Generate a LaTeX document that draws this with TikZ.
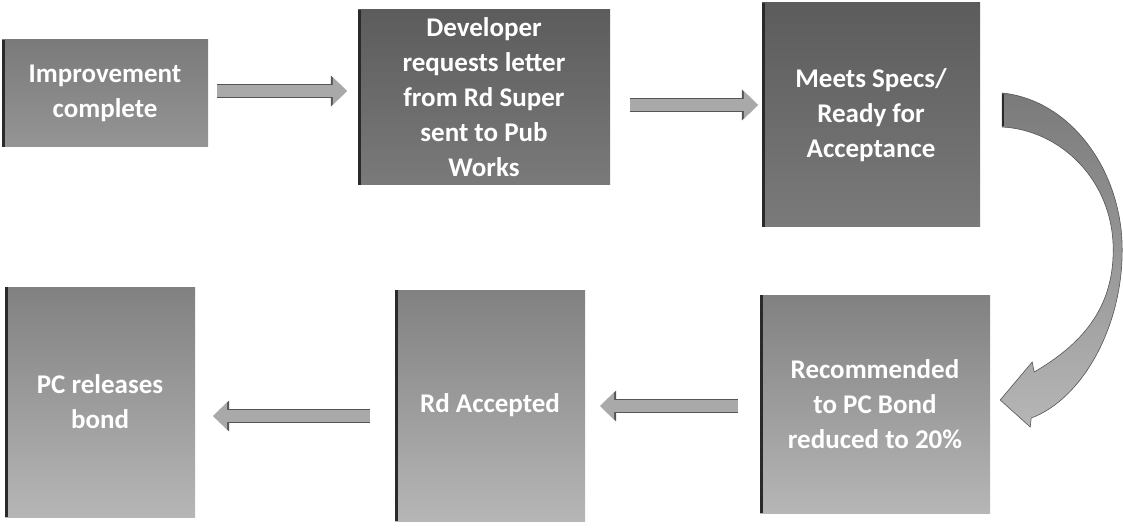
\documentclass[tikz,border=0pt]{standalone}
\usepackage{fontspec}
\setmainfont{Carlito}
\usetikzlibrary{calc,arrows.meta}

\definecolor{edgedark}{HTML}{2A2A2A}
\definecolor{arrowfill}{HTML}{A9A9A9}
\definecolor{arrowedge}{HTML}{555555}
\definecolor{midtop}{HTML}{7A7A7A}
\definecolor{midbot}{HTML}{959595}
\definecolor{darktop}{HTML}{5C5C5C}
\definecolor{darkbot}{HTML}{7A7A7A}
\definecolor{lighttop}{HTML}{818181}
\definecolor{lightbot}{HTML}{B6B6B6}

\tikzset{
  stepbox/.style={
    align=center, inner sep=0pt, text=white,
    font=\bfseries\fontsize{27}{35}\selectfont,
    path picture={\draw[edgedark, line width=3pt]
      ([xshift=1.5pt]path picture bounding box.north west) --
      ([xshift=1.5pt]path picture bounding box.south west);}
  },
  midbox/.style={stepbox, top color=midtop, bottom color=midbot},
  darkbox/.style={stepbox, top color=darktop, bottom color=darkbot},
  lightbox/.style={stepbox, top color=lighttop, bottom color=lightbot},
  blockarrow/.style={
    draw=arrowfill, line width=12pt,
    -{Triangle[length=14pt,width=27pt,fill=arrowfill]},
    preaction={draw=arrowedge, line width=14pt,
      -{Triangle[length=16pt,width=30pt,fill=arrowedge]}}
  },
  bentarrow/.style={draw=arrowedge, line width=0.6pt,
    top color=darkbot, bottom color=lightbot}
}

\begin{document}
\begin{tikzpicture}[x=1pt, y=-1pt]
\useasboundingbox (0,0) rectangle (1123,529);

% upper row
\node[midbox, minimum width=206pt, minimum height=107pt] (b1) at (105,93.5)
  {Improvement\\complete};
\node[darkbox, minimum width=252pt, minimum height=175pt] (b2) at (484,97.5)
  {Developer\\requests letter\\from Rd Super\\sent to Pub\\Works};
\node[darkbox, minimum width=218pt, minimum height=224pt] (b3) at (871,115)
  {Meets Specs/\\Ready for\\Acceptance};

% lower row
\node[lightbox, minimum width=230pt, minimum height=218pt] (b4) at (875,404)
  {Recommended\\to PC Bond\\reduced to 20\%};
\node[lightbox, minimum width=190pt, minimum height=231pt] (b5) at (490,405.5)
  {Rd Accepted};
\node[lightbox, minimum width=190pt, minimum height=230pt] (b6) at (100,402)
  {PC releases\\bond};

% straight block arrows
\draw[blockarrow] ([xshift=9pt,yshift=2.5pt]b1.east) -- ([xshift=-11pt,yshift=2.5pt]b2.west |- b1.east);
\draw[blockarrow] ([xshift=20pt,yshift=-7.5pt]b2.east) -- ([xshift=-4pt,yshift=-7.5pt]b3.west |- b2.east);
\draw[blockarrow] ([xshift=-22pt,yshift=-2pt]b4.west) -- ([xshift=15pt,yshift=-2pt]b5.east |- b4.west);
\draw[blockarrow] ([xshift=-25pt,yshift=-10.5pt]b5.west) -- ([xshift=18pt,yshift=-10.5pt]b6.east |- b5.west);

% curved arrow from the upper right box down to the lower right box
\path[bentarrow]
  ($(b3.east)+(22,-22)$)
  .. controls ($(b3.east)+(90,-15)$) and ($(b3.east)+(142,55)$) .. ($(b3.east)+(142,135)$)
  .. controls ($(b4.east)+(132,-74)$) and ($(b4.east)+(90,-4)$) .. ($(b4.east)+(41,14)$)
  -- ($(b4.east)+(40,23)$) -- ($(b4.east)+(10,-4)$) -- ($(b4.east)+(42,-42)$)
  -- ($(b4.east)+(44,-32)$)
  .. controls ($(b4.east)+(90,-59)$) and ($(b4.east)+(123,-94)$) .. ($(b3.east)+(133,135)$)
  .. controls ($(b3.east)+(133,65)$) and ($(b3.east)+(80,15)$) .. ($(b3.east)+(22,12)$)
  -- cycle;
\draw[edgedark, line width=2.5pt] ($(b3.east)+(23,-21)$) -- ($(b3.east)+(23,11)$);
\end{tikzpicture}
\end{document}
